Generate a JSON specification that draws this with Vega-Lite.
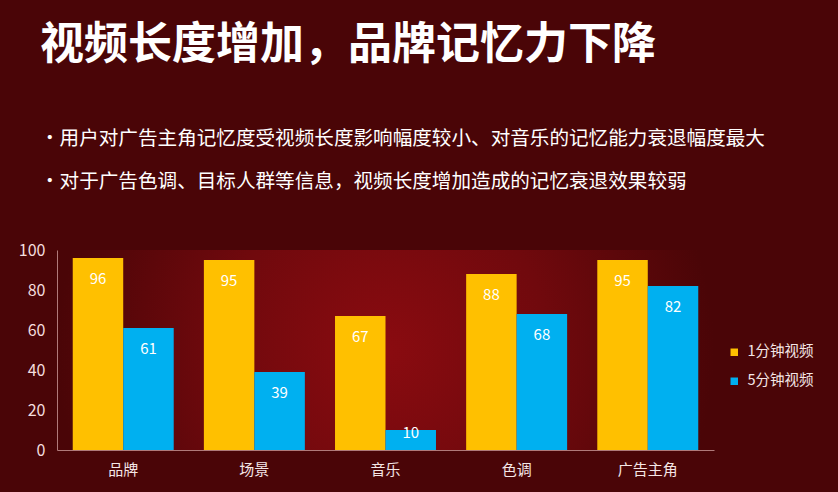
{
  "$schema": "https://vega.github.io/schema/vega-lite/v6.json",
  "autosize": {"type": "none"},
  "width": 657,
  "height": 200,
  "padding": {"left": 57, "top": 250, "right": 124, "bottom": 42},
  "background": "#4a0507",
  "title": {
    "text": "视频长度增加，品牌记忆力下降",
    "subtitle": ["•用户对广告主角记忆度受视频长度影响幅度较小、对音乐的记忆能力衰退幅度最大", "•对于广告色调、目标人群等信息，视频长度增加造成的记忆衰退效果较弱"],
    "anchor": "start",
    "frame": "group",
    "dx": -17,
    "offset": 50,
    "font": "Noto Sans CJK SC",
    "fontSize": 44,
    "fontWeight": "bold",
    "color": "#ffffff",
    "subtitleFont": "Noto Sans CJK SC",
    "subtitleFontSize": 19.6,
    "subtitleColor": "#ffffff",
    "subtitlePadding": 62,
    "subtitleLineHeight": 43
  },
  "config": {
    "view": {
      "stroke": null,
      "fill": {
        "gradient": "radial",
        "x1": 0.5, "y1": 0.5, "r1": 0,
        "x2": 0.5, "y2": 0.5, "r2": 0.5,
        "stops": [
          {"offset": 0, "color": "#8a0b10"},
          {"offset": 0.5, "color": "#70090d"},
          {"offset": 1, "color": "#4a0507"}
        ]
      }
    },
    "font": "Noto Sans CJK SC"
  },
  "data": {
    "values": [
      {"category": "品牌", "series": "1分钟视频", "value": 96},
      {"category": "品牌", "series": "5分钟视频", "value": 61},
      {"category": "场景", "series": "1分钟视频", "value": 95},
      {"category": "场景", "series": "5分钟视频", "value": 39},
      {"category": "音乐", "series": "1分钟视频", "value": 67},
      {"category": "音乐", "series": "5分钟视频", "value": 10},
      {"category": "色调", "series": "1分钟视频", "value": 88},
      {"category": "色调", "series": "5分钟视频", "value": 68},
      {"category": "广告主角", "series": "1分钟视频", "value": 95},
      {"category": "广告主角", "series": "5分钟视频", "value": 82}
    ]
  },
  "encoding": {
    "x": {
      "field": "category",
      "type": "nominal",
      "sort": ["品牌", "场景", "音乐", "色调", "广告主角"],
      "scale": {"paddingInner": 0.23, "paddingOuter": 0.12},
      "axis": {
        "title": null,
        "labelAngle": 0,
        "labelColor": "#f4e6e6",
        "labelFontSize": 15,
        "labelPadding": 12,
        "ticks": false,
        "domainColor": "#b07a7a",
        "domainWidth": 1
      }
    },
    "xOffset": {"field": "series", "type": "nominal", "scale": {"paddingInner": 0, "paddingOuter": 0}},
    "y": {
      "field": "value",
      "type": "quantitative",
      "scale": {"domain": [0, 100]},
      "axis": {
        "title": null,
        "values": [0, 20, 40, 60, 80, 100],
        "grid": false,
        "ticks": false,
        "labelColor": "#f4dede",
        "labelFontSize": 16,
        "labelPadding": 12,
        "domainColor": "#b07a7a",
        "domainWidth": 1
      }
    }
  },
  "layer": [
    {
      "mark": {"type": "bar"},
      "encoding": {
        "color": {
          "field": "series",
          "type": "nominal",
          "scale": {"domain": ["1分钟视频", "5分钟视频"], "range": ["#ffc000", "#00b0f0"]},
          "legend": {
            "title": null,
            "orient": "none",
            "legendX": 670,
            "legendY": 95,
            "symbolType": "square",
            "symbolSize": 56,
            "symbolStrokeWidth": 0,
            "labelColor": "#f4e6e6",
            "labelFontSize": 14.5,
            "labelOffset": 6,
            "rowPadding": 14
          }
        }
      }
    },
    {
      "transform": [{"filter": "datum.value >= 20"}],
      "mark": {"type": "text", "baseline": "middle", "fontSize": 15, "color": "#ffffff", "dy": 21},
      "encoding": {"text": {"field": "value", "type": "quantitative"}}
    },
    {
      "transform": [{"filter": "datum.value < 20"}],
      "mark": {"type": "text", "baseline": "middle", "fontSize": 15, "color": "#ffffff", "dy": 3},
      "encoding": {"text": {"field": "value", "type": "quantitative"}}
    }
  ]
}
